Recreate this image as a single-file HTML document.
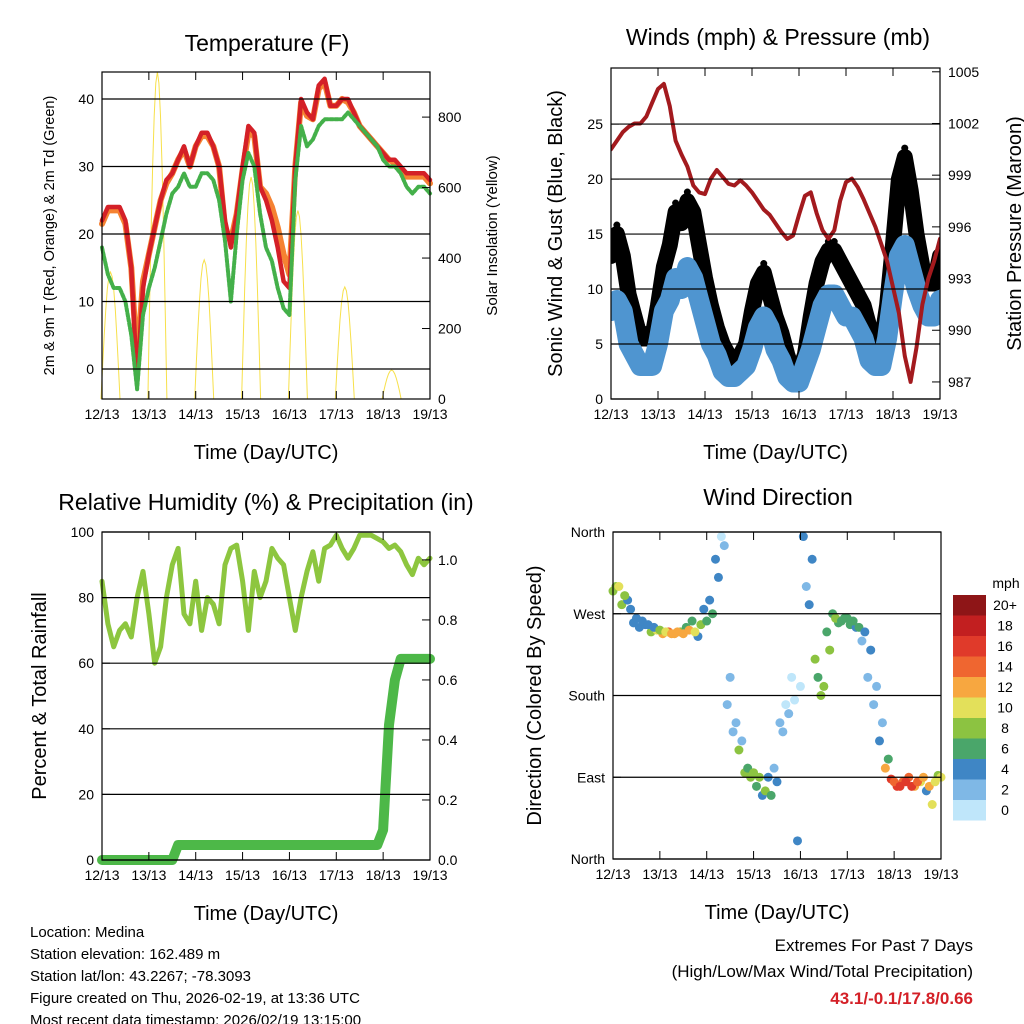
<!DOCTYPE html>
<html><head><meta charset="utf-8"><style>
html,body{margin:0;padding:0;background:#fff;}
svg{display:block;font-family:"Liberation Sans",Arial,sans-serif;}
</style></head><body>
<svg id="c" width="1024" height="1024" viewBox="0 0 1024 1024"></svg>
<script>
// ---- data (3-hourly, 57 points, 12/13 00UTC to 19/13 00UTC) ----
const dayLabels = ["12/13","13/13","14/13","15/13","16/13","17/13","18/13","19/13"];
const temp2m = [22,24,24,24,22,15,-2,12,17,21,25,28,29,31,33,30,33,35,35,33,30,22,18,23,30,36,35,27,25,22,18,13,12,30,40,38,37,42,43,39,39,40,40,38,36,35,34,33,32,31,31,30,29,29,29,29,28];
const temp9m = [21.5,23.5,23.5,23.5,21.5,15,1,13,17,21,25,27.5,29,31,32.5,30,33,34.5,34.5,33,30,21,19,23,29.5,35,34.5,27,26,24,21,17,14,30,39.5,37.5,37,41.5,42.5,39,39,40,39.5,38,36,35,34,33,32,31,30.5,29.5,28.5,28.5,28.5,28.5,27.5];
const dewpoint = [18,14,12,12,10,5,-3,8,12,15,19,23,26,27,29,27,27,29,29,28,25,19,10,20,28,32,30,23,18,16,12,9,8,28,36,33,34,36,37,37,37,37,38,37,36,35,34,33,31,30,30,29,27,26,27,27,26];
const solarPeak = [360,928,395,630,535,318,82];
const windSpeed = [8,9,8,5,4,3,3,3,5,8,9,11,10,12,11,9,7,5,4,2.5,2,2,2.5,3,4.5,6.5,7.5,6.5,4.5,3.5,2,1.5,1.5,3,4.5,6.5,8.5,9.5,9.5,8.5,7.5,7.5,6.5,5.5,3.5,3,3,5.5,9.5,13,14,12,10,8.5,7.5,7.5,9];
const windGust = [13,15,13,9.5,7.5,5.5,5.5,5.5,8.5,12,14,17,16,18,17,14,11,8.5,6.5,5,4,3,4,5,8,10.5,11.5,9.5,7.5,6,4,2.5,2.5,4,7.5,10.5,12.5,13.5,13.5,12.5,11.5,10.5,9.5,8.5,6.5,5,5,8.5,14,20,22,19,15,12,10.5,10.5,13];
const pressure = [1000.5,1001,1001.5,1001.8,1002,1002,1002.4,1003.2,1004,1004.3,1003,1001,1000.2,999.5,998.4,998,997.9,998.8,999.3,998.9,998.5,998.4,998.7,998.4,998,997.5,997,996.7,996.2,995.7,995.3,995.5,996.7,997.8,998,996.8,995.8,995.3,995.8,997.5,998.6,998.8,998.3,997.6,996.8,996,995,994,992.5,991,988.5,987,989,991.5,993,994,995.3];
const relHum = [85,72,65,70,72,68,80,88,75,60,65,80,90,95,75,72,85,70,80,78,72,90,95,96,85,70,88,80,85,95,92,90,80,70,80,88,94,85,95,96,99,95,92,95,99,99,99,98,97,95,96,94,90,87,92,90,92];
const precip = [0,0,0,0,0,0,0,0,0,0,0,0,0,0.05,0.05,0.05,0.05,0.05,0.05,0.05,0.05,0.05,0.05,0.05,0.05,0.05,0.05,0.05,0.05,0.05,0.05,0.05,0.05,0.05,0.05,0.05,0.05,0.05,0.05,0.05,0.05,0.05,0.05,0.05,0.05,0.05,0.05,0.05,0.1,0.45,0.6,0.67,0.67,0.67,0.67,0.67,0.67];
const windDir = [295,300,290,275,265,262,258,255,252,250,248,250,248,252,250,258,262,270,310,345,200,150,130,100,95,90,75,70,85,140,160,175,190,300,330,200,190,230,265,262,265,262,255,250,230,190,150,110,85,80,85,80,85,90,80,85,90];
const dirSpeed = [9,10,9,5,4,4,4,5,9,11,13,13,12,12,10,8,7,6,5,3,2,2,3,6,9,9,8,7,5,3,2,1,1,3,4,6,9,9,8,7,7,7,6,5,4,3,3,6,14,16,17,16,15,13,12,11,10];
const windDirMid = [300,280,285,260,255,258,250,252,248,250,248,250,255,262,245,275,285,330,355,170,140,120,95,90,80,70,90,100,150,170,200,20,355,280,220,180,250,270,260,265,258,255,240,200,170,130,100,88,80,85,90,80,85,75,60,92];
const dirSpeedMid = [9,9,4,4,4,5,9,11,12,14,12,8,7,6,4,4,4,4,1,2,2,9,9,8,7,5,4,3,2,1,1,4,5,4,9,9,7,7,7,7,6,4,3,3,3,4,12,16,17,15,14,12,11,4,10,9];
const cbLabels = ["20+","18","16","14","12","10","8","6","4","2","0"];
const cbColors = ["#8e1517","#c21f20","#e03a2a","#ef6630","#f7a740","#e3e05a","#8cc341","#4aa66a","#3f86c5","#7fb8e6","#bfe6fa"];

const svg = document.getElementById('c');
const NS = 'http://www.w3.org/2000/svg';
function mk(tag, attrs, parent, text){
  const e = document.createElementNS(NS, tag);
  for (const k in attrs) e.setAttribute(k, attrs[k]);
  if (text !== undefined) e.textContent = text;
  (parent || svg).appendChild(e);
  return e;
}
function grp(name){
  const g = document.createElementNS(NS,'g');
  
  
  svg.appendChild(g);
  return g;
}
function scale(d0,d1,r0,r1){ return v => r0 + (v-d0)/(d1-d0)*(r1-r0); }

function axes(p, name){
  const g = grp(name + '-axes');
  p.yTicks.forEach(v => {
    const y = p.ys(v);
    const l = mk('line',{x1:p.x0,x2:p.x1,y1:y,y2:y,stroke:'#000','stroke-width':1.2},g);
    
    
  });
  for (let d=0; d<=7; d++){
    const x = p.xd(d);
    mk('line',{x1:x,x2:x,y1:p.y1,y2:p.y1-8,stroke:'#000','stroke-width':1},g);
    mk('line',{x1:x,x2:x,y1:p.y0,y2:p.y0+8,stroke:'#000','stroke-width':1},g);
    const t = mk('text',{x:x,y:p.y1+20,'font-size':14,'text-anchor':'middle'},g,dayLabels[d]);
    
    
  }
  p.yTicks.forEach((v,i) => {
    const y = p.ys(v);
    mk('line',{x1:p.x0,x2:p.x0+8,y1:y,y2:y,stroke:'#000'},g);
    const t = mk('text',{x:p.x0-8,y:y+5,'font-size':14,'text-anchor':'end'},g,p.yLabels[i]);
    
    
  });
  if (p.rTicks){
    p.rTicks.forEach((v,i) => {
      const y = p.rs(v);
      mk('line',{x1:p.x1,x2:p.x1-8,y1:y,y2:y,stroke:'#000'},g);
      const t = mk('text',{x:p.x1+8,y:y+5,'font-size':14,'text-anchor':'start'},g,p.rLabels[i]);
      
      
    });
  }
  const b = mk('rect',{x:p.x0,y:p.y0,width:p.x1-p.x0,height:p.y1-p.y0,fill:'none',stroke:'#000','stroke-width':1.2},g);
  
  
  const tt = mk('text',{x:p.tx,y:p.ty,'font-size':23,'text-anchor':'middle'},g,p.title);
  
  
  const xt = mk('text',{x:(p.x0+p.x1)/2,y:p.y1+60,'font-size':20,'text-anchor':'middle'},g,'Time (Day/UTC)');
  
  
  const ly = mk('text',{x:0,y:0,'font-size':p.lfs,'text-anchor':'middle',transform:`translate(${p.lx},${(p.y0+p.y1)/2}) rotate(-90)`},g,p.lTitle);
  
  
  if (p.rTitle){
    const ry = mk('text',{x:0,y:0,'font-size':p.rfs,'text-anchor':'middle',transform:`translate(${p.rx},${(p.y0+p.y1)/2}) rotate(-90)`},g,p.rTitle);
    
    
  }
}
function makePanel(o){
  o.xd = scale(0,7,o.x0,o.x1);
  o.xi = scale(0,56,o.x0,o.x1);
  o.ys = scale(o.ymin,o.ymax,o.y1,o.y0);
  if (o.rmin!==undefined) o.rs = scale(o.rmin,o.rmax,o.y1,o.y0);
  return o;
}
function line(arr, xs, ys, attrs, name, parent){
  const pts = arr.map((v,i)=>xs(i).toFixed(1)+','+ys(v).toFixed(1)).join(' ');
  const pl = mk('polyline',Object.assign({points:pts,fill:'none','stroke-linejoin':'round','stroke-linecap':'round'},attrs),parent);
  
  
  return pl;
}

// ---- Panel 1: temperature ----
const P1 = makePanel({x0:102,x1:430,y0:72,y1:399,ymin:-4.44,ymax:44,yTicks:[0,10,20,30,40],yLabels:['0','10','20','30','40'],
  rmin:0,rmax:928,rTicks:[0,200,400,600,800],rLabels:['0','200','400','600','800'],
  title:'Temperature (F)',tx:267,ty:51,lTitle:'2m & 9m T (Red, Orange) & 2m Td (Green)',lx:54,lfs:14.5,rTitle:'Solar Insolation (Yellow)',rx:497,rfs:15});
const g1 = grp('temperature-series');
solarPeak.forEach((pk,d) => {
  const xs = P1.xd(d) - 1, w = 19;
  const n = 12, pts = [];
  for (let k=0;k<=n;k++){
    const f = k/n;
    pts.push((xs+f*w).toFixed(1)+','+P1.rs(pk*Math.sin(Math.PI*f)).toFixed(1));
  }
  const s = mk('polyline',{points:pts.join(' '),fill:'none',stroke:'#f7e04a','stroke-width':1},g1);
  
  
});
line(temp9m, P1.xi, P1.ys, {stroke:'#f58232','stroke-width':6}, 'temp-9m-line', g1);
line(temp2m, P1.xi, P1.ys, {stroke:'#d42027','stroke-width':4.5}, 'temp-2m-line', g1);
line(dewpoint, P1.xi, P1.ys, {stroke:'#44b04a','stroke-width':4,'stroke-dasharray':'3 2'}, 'dewpoint-line', g1);
axes(P1,'temperature');

// ---- Panel 2: winds & pressure ----
const P2 = makePanel({x0:611,x1:940,y0:68,y1:399,ymin:0,ymax:30.1,yTicks:[0,5,10,15,20,25],yLabels:['0','5','10','15','20','25'],
  rmin:986.01,rmax:1005.22,rTicks:[987,990,993,996,999,1002,1005],rLabels:['987','990','993','996','999','1002','1005'],
  title:'Winds (mph) & Pressure (mb)',tx:778,ty:45,lTitle:'Sonic Wind & Gust (Blue, Black)',lx:562,lfs:20,rTitle:'Station Pressure (Maroon)',rx:1021,rfs:20});
const g2 = grp('wind-series');
const clip = mk('clipPath',{id:'clipW'},svg);
mk('rect',{x:611,y:68,width:329,height:331},clip);
g2.setAttribute('clip-path','url(#clipW)');
line(windGust, P2.xi, P2.ys, {stroke:'#000','stroke-width':16}, 'gust-line', g2);
windGust.forEach((v,i)=>{
  const c = mk('circle',{cx:P2.xi(i),cy:P2.ys(v)-9,r:3.5,fill:'#000'},g2);
  
  
});
line(windSpeed, P2.xi, P2.ys, {stroke:'#4f95d0','stroke-width':20}, 'wind-speed-line', g2);
line(pressure, P2.xi, P2.rs, {stroke:'#a31a1e','stroke-width':4}, 'pressure-line', g2);
axes(P2,'winds');

// ---- Panel 3: RH & precip ----
const P3 = makePanel({x0:102,x1:430,y0:532,y1:860,ymin:0,ymax:100,yTicks:[0,20,40,60,80,100],yLabels:['0','20','40','60','80','100'],
  rmin:0,rmax:1.093,rTicks:[0,0.2,0.4,0.6,0.8,1.0],rLabels:['0.0','0.2','0.4','0.6','0.8','1.0'],
  title:'Relative Humidity (%) & Precipitation (in)',tx:266,ty:510,lTitle:'Percent & Total Rainfall',lx:46,lfs:20});
const g3 = grp('humidity-series');
line(relHum, P3.xi, P3.ys, {stroke:'#8dc63f','stroke-width':5}, 'relative-humidity-line', g3);
line(precip, P3.xi, P3.rs, {stroke:'#4db848','stroke-width':10}, 'precipitation-line', g3);
axes(P3,'humidity');

// ---- Panel 4: wind direction ----
const P4 = makePanel({x0:613,x1:941,y0:532,y1:859,ymin:0,ymax:360,yTicks:[0,90,180,270,360],yLabels:['North','East','South','West','North'],
  title:'Wind Direction',tx:778,ty:505,lTitle:'Direction (Colored By Speed)',lx:541,lfs:20});
const g4 = grp('wind-direction-series');
function spdColor(s){ const idx = Math.min(10, Math.floor(s/2)); return cbColors[10-idx]; }
windDirMid.forEach((v,i)=>{
  const c = mk('circle',{cx:P4.xi(i+0.5),cy:P4.ys(v),r:4.5,fill:spdColor(dirSpeedMid[i])},g4);
  
  
});
windDir.forEach((v,i)=>{
  const c = mk('circle',{cx:P4.xi(i),cy:P4.ys(v),r:4.5,fill:spdColor(dirSpeed[i])},g4);
  
  
});
axes(P4,'wind-direction');
const cb = grp('speed-colorbar');
cbColors.forEach((col,i)=>{
  const r = mk('rect',{x:953,y:595+i*20.5,width:33,height:20.5,fill:col},cb);
  
  
  const t = mk('text',{x:1005,y:610+i*20.5,'font-size':14,'text-anchor':'middle'},cb,cbLabels[i]);
  
  
});
const mph = mk('text',{x:1006,y:588,'font-size':14,'text-anchor':'middle'},cb,'mph');



// ---- footer text ----
const info = grp('station-info');
["Location: Medina","Station elevation: 162.489 m","Station lat/lon: 43.2267; -78.3093","Figure created on Thu, 2026-02-19, at 13:36 UTC","Most recent data timestamp: 2026/02/19 13:15:00"].forEach((s,i)=>{
  const t = mk('text',{x:30,y:937+i*22,'font-size':15},info,s);
  
  
});
const ex = grp('extremes');
const e1 = mk('text',{x:973,y:951,'font-size':17,'text-anchor':'end'},ex,'Extremes For Past 7 Days');


const e2 = mk('text',{x:973,y:977,'font-size':17,'text-anchor':'end'},ex,'(High/Low/Max Wind/Total Precipitation)');


const e3 = mk('text',{x:973,y:1004,'font-size':17,'font-weight':'bold','text-anchor':'end',fill:'#d42027'},ex,'43.1/-0.1/17.8/0.66');


</script>
</body></html>
